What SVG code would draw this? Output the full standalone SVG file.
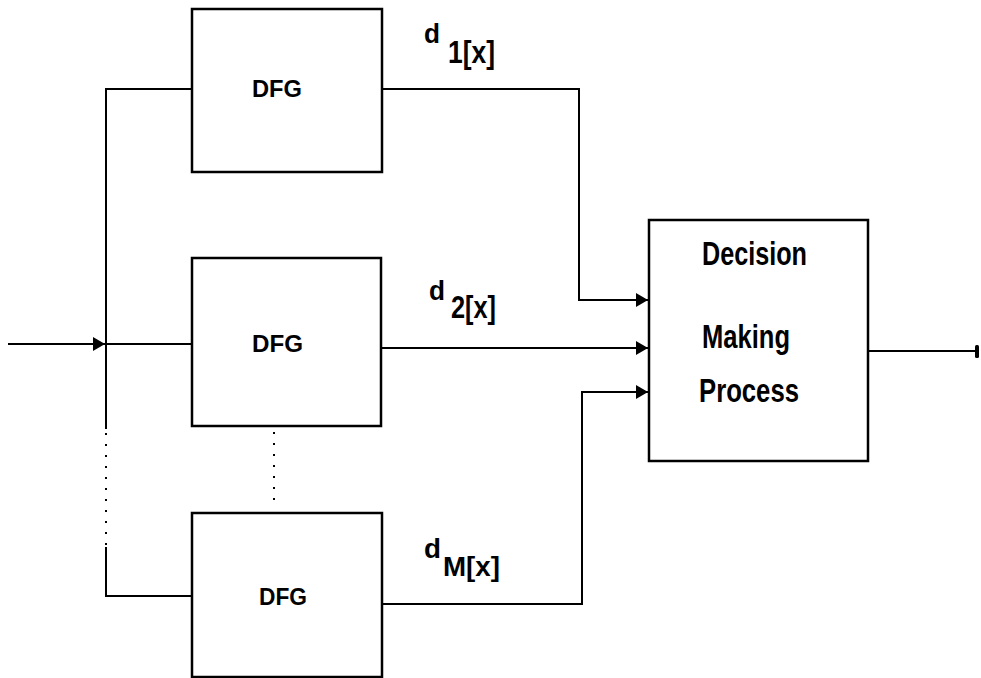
<svg xmlns="http://www.w3.org/2000/svg" width="981" height="678" viewBox="0 0 981 678">
<style>
.box{fill:#fff;stroke:#000;stroke-width:2.5}
.ln{fill:none;stroke:#000;stroke-width:2}
.dot{fill:none;stroke:#000;stroke-width:2;stroke-dasharray:2 9}
.t{font-family:"Liberation Sans",Arial,sans-serif;font-weight:bold;fill:#000}
</style>
<defs>
<marker id="ah" viewBox="0 0 12 14" refX="12" refY="7" markerWidth="12" markerHeight="14" markerUnits="userSpaceOnUse" orient="auto">
<path d="M0,0 L12,7 L0,14 Z" fill="#000"/>
</marker>
</defs>
<rect width="981" height="678" fill="#fff"/>
<g id="connectors">
<path class="ln" d="M8,344 H105" marker-end="url(#ah)"/>
<path class="ln" d="M106,429 V89 H192"/>
<path class="ln" d="M106,344 H192"/>
<path class="dot" d="M106,433 V545"/>
<path class="ln" d="M106,547 V596 H192"/>
<path class="dot" d="M274,432 V508"/>
<path class="ln" d="M382,89 H579 V300 H648" marker-end="url(#ah)"/>
<path class="ln" d="M381,348 H648" marker-end="url(#ah)"/>
<path class="ln" d="M382,604 H582 V392 H648" marker-end="url(#ah)"/>
<path class="ln" d="M868,351 H976"/>
<rect x="975" y="345" width="4" height="13" rx="1.5" fill="#000"/>
</g>
<g id="dfg1">
<rect class="box" x="192" y="9" width="190" height="163"/>
<text class="t" x="252" y="97" font-size="24" textLength="50" lengthAdjust="spacingAndGlyphs">DFG</text>
</g>
<g id="dfg2">
<rect class="box" x="192" y="258" width="189" height="168"/>
<text class="t" x="252" y="352" font-size="24" textLength="51" lengthAdjust="spacingAndGlyphs">DFG</text>
</g>
<g id="dfg3">
<rect class="box" x="192" y="513" width="190" height="164"/>
<text class="t" x="259" y="605" font-size="24" textLength="48" lengthAdjust="spacingAndGlyphs">DFG</text>
</g>
<g id="decision">
<rect class="box" x="649" y="220" width="219" height="241"/>
<text class="t" x="702" y="265" font-size="34" textLength="105" lengthAdjust="spacingAndGlyphs">Decision</text>
<text class="t" x="702" y="348" font-size="34" textLength="88" lengthAdjust="spacingAndGlyphs">Making</text>
<text class="t" x="699" y="402" font-size="34" textLength="100" lengthAdjust="spacingAndGlyphs">Process</text>
</g>
<g id="labels">
<text class="t" x="424" y="43" font-size="27" textLength="16" lengthAdjust="spacingAndGlyphs">d</text>
<text class="t" x="448" y="63" font-size="31" textLength="47" lengthAdjust="spacingAndGlyphs">1[x]</text>
<text class="t" x="429" y="300" font-size="27" textLength="16" lengthAdjust="spacingAndGlyphs">d</text>
<text class="t" x="451" y="318" font-size="31" textLength="45" lengthAdjust="spacingAndGlyphs">2[x]</text>
<text class="t" x="424" y="558" font-size="27" textLength="17" lengthAdjust="spacingAndGlyphs">d</text>
<text class="t" x="443" y="576" font-size="28" textLength="57" lengthAdjust="spacingAndGlyphs">M[x]</text>
</g>
</svg>
